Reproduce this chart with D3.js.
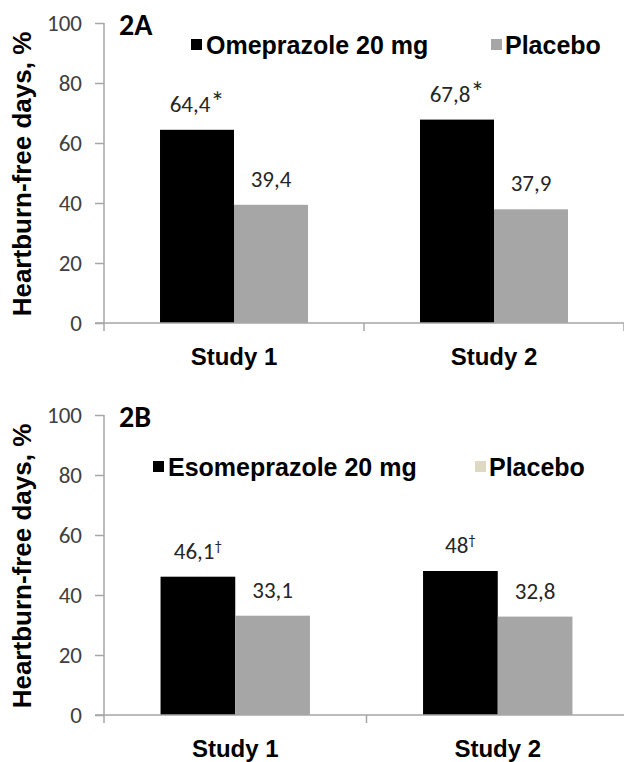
<!DOCTYPE html>
<html><head><meta charset="utf-8">
<script src="https://cdn.jsdelivr.net/npm/d3@7"></script>
<style>
body{margin:0;background:#fff;}
svg{display:block;}
.num{font-family:Carlito,Calibri,Lato,"Open Sans",sans-serif;}
.bold{font-family:"Liberation Sans Narrow","Arial Narrow","Liberation Sans",Arial,sans-serif;font-weight:bold;}
</style></head>
<body>
<svg id="c" width="624" height="762"></svg>
<script>
const categories = ["Study 1", "Study 2"];
const yTicks = [0, 20, 40, 60, 80, 100];
const yTitle = "Heartburn-free days, %";

const panelA_title = "2A";
const panelA_series = ["Omeprazole 20 mg", "Placebo"];
const panelA_values = [[64.4, 67.8], [39.4, 37.9]];
const panelA_labels = [["64,4", "67,8"], ["39,4", "37,9"]];
const panelA_marks = [["*", "*"], ["", ""]];

const panelB_title = "2B";
const panelB_series = ["Esomeprazole 20 mg", "Placebo"];
const panelB_values = [[46.1, 48], [33.1, 32.8]];
const panelB_labels = [["46,1", "48"], ["33,1", "32,8"]];
const panelB_marks = [["†", "†"], ["", ""]];

const barColors = ["#000000", "#a6a6a6"];
const axisColor = "#a6a6a6";

const svg = d3.select("#c");

function panel(cfg) {
  const g = svg.append("g");
  const y = d3.scaleLinear().domain([0, 100]).range([cfg.y0, cfg.y1]);
  const x = d3.scaleBand().domain(categories).range([cfg.x0, cfg.x1]);
  const x1 = d3.scaleBand().domain(d3.range(cfg.series.length)).range([0, x.bandwidth()]).paddingOuter(0.757);

  // y axis
  const ya = g.append("g").attr("transform", `translate(${cfg.x0},0)`)
    .call(d3.axisLeft(y).tickValues(yTicks).tickSize(9).tickPadding(13));
  ya.select(".domain").remove();
  ya.selectAll(".tick line").attr("stroke", axisColor).attr("stroke-width", 1.5);
  ya.selectAll(".tick text").attr("class", "num").attr("font-size", 23).attr("fill", "#404040");
  g.append("line").attr("x1", cfg.x0).attr("x2", cfg.x0).attr("y1", y(100)).attr("y2", y(0) + 8)
    .attr("stroke", axisColor).attr("stroke-width", 1.5);

  // bars
  cfg.series.forEach((s, si) => {
    g.selectAll(null).data(categories).enter().append("rect")
      .attr("x", c => x(c) + x1(si))
      .attr("width", x1.bandwidth())
      .attr("y", (c, ci) => y(cfg.values[si][ci]))
      .attr("height", (c, ci) => y(0) - y(cfg.values[si][ci]))
      .attr("fill", barColors[si]);
    const t = g.selectAll(null).data(categories).enter().append("text")
      .attr("class", "num").attr("font-size", 23).attr("fill", "#262626")
      .attr("text-anchor", "middle")
      .attr("x", c => x(c) + x1(si) + x1.bandwidth() / 2)
      .attr("y", (c, ci) => y(cfg.values[si][ci]) - 18);
    t.append("tspan").text((c, ci) => cfg.labels[si][ci]);
    t.append("tspan").attr("font-size", (c, ci) => cfg.marks[si][ci] === "†" ? 15 : 28)
      .attr("dy", (c, ci) => cfg.marks[si][ci] === "†" ? -8 : 0)
      .text((c, ci) => cfg.marks[si][ci]);
  });

  // x axis
  g.append("line").attr("x1", cfg.x0 - 9).attr("x2", cfg.x1).attr("y1", y(0)).attr("y2", y(0))
    .attr("stroke", axisColor).attr("stroke-width", 1.5);
  const bounds = categories.map(c => x(c)).concat([x.range()[1]]);
  g.selectAll(null).data(bounds.slice(1)).enter().append("line")
    .attr("x1", d => d).attr("x2", d => d).attr("y1", y(0)).attr("y2", y(0) + 8)
    .attr("stroke", axisColor).attr("stroke-width", 1.5);
  g.selectAll(null).data(categories).enter().append("text")
    .attr("class", "bold").attr("font-size", 24).attr("fill", "#000")
    .attr("text-anchor", "middle").attr("dominant-baseline", "central")
    .attr("x", c => x(c) + x.bandwidth() / 2).attr("y", y(0) + 33)
    .text(c => c);

  // y title
  g.append("text").attr("class", "bold").attr("font-size", 26).attr("fill", "#000")
    .attr("text-anchor", "middle").attr("dominant-baseline", "central")
    .attr("transform", `translate(22,${(y(0) + y(100)) / 2 + 1}) rotate(-90)`)
    .text(yTitle);

  // panel title
  g.append("text").attr("class", "num").attr("font-weight", "bold").attr("font-size", 30)
    .attr("fill", "#000").attr("dominant-baseline", "central")
    .attr("x", cfg.x0 + 15).attr("y", y(100) + 1).text(cfg.title);

  // legend
  cfg.series.forEach((s, si) => {
    g.append("rect").attr("x", cfg.leg[si][0]).attr("y", cfg.legY - 6).attr("width", 11).attr("height", 11)
      .attr("fill", cfg.legColors[si]);
    g.append("text").attr("class", "bold").attr("font-size", 25).attr("fill", "#000")
      .attr("dominant-baseline", "central")
      .attr("x", cfg.leg[si][1]).attr("y", cfg.legY).text(s);
  });
}

panel({y0: 323, y1: 23, x0: 104, x1: 624, series: panelA_series, values: panelA_values,
  labels: panelA_labels, marks: panelA_marks, title: panelA_title,
  legY: 45, leg: [[191, 206], [491, 505]], legColors: ["#000000", "#a6a6a6"]});
panel({y0: 715, y1: 415, x0: 104, x1: 629, series: panelB_series, values: panelB_values,
  labels: panelB_labels, marks: panelB_marks, title: panelB_title,
  legY: 467, leg: [[153, 168], [475, 489]], legColors: ["#000000", "#ddd9c3"]});
</script>
</body></html>
